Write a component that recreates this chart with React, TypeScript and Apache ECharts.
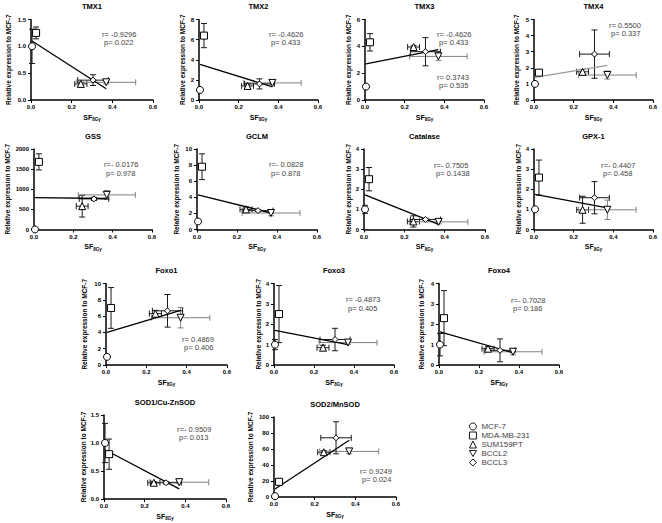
import React, { useEffect, useRef } from 'react';
import * as echarts from 'echarts';

// ---------------- DATA ----------------
const cellLines = ['MCF-7', 'MDA-MB-231', 'SUM159PT', 'BCCL2', 'BCCL3'];
const sf8Gy = [0.005, 0.025, 0.245, 0.37, 0.305];
const sf8GyErr = [0, 0, 0.03, 0.145, 0.075];

const genes = ['TMX1', 'TMX2', 'TMX3', 'TMX4', 'GSS', 'GCLM', 'Catalase', 'GPX-1', 'Foxo1', 'Foxo3', 'Foxo4', 'SOD1/Cu-ZnSOD', 'SOD2/MnSOD'];

const tmx1 = [1.0, 1.25, 0.3, 0.33, 0.37];
const tmx1Err = [0.32, 0.11, 0.03, 0.03, 0.1];
const tmx2 = [1.0, 6.4, 1.4, 1.7, 1.6];
const tmx2Err = [0, 1.2, 0.2, 0.15, 0.5];
const tmx3 = [1.0, 4.3, 3.95, 3.25, 3.6];
const tmx3Err = [0, 0.65, 0.1, 0.3, 1.05];
const tmx4 = [1.0, 1.7, 1.75, 1.55, 2.85];
const tmx4Err = [0, 0.15, 0.15, 0.25, 1.5];
const gss = [1, 1680, 580, 860, 760];
const gssErr = [0, 200, 270, 110, 40];
const gclm = [1.0, 7.8, 2.5, 2.05, 2.35];
const gclmErr = [0, 1.6, 0.3, 0.35, 0.1];
const catalase = [1.0, 2.5, 0.4, 0.38, 0.5];
const catalaseErr = [0.2, 0.58, 0.28, 0.1, 0.05];
const gpx1 = [1.0, 2.58, 0.98, 0.98, 1.58];
const gpx1Err = [0, 0.87, 0.67, 0.48, 0.8];
const foxo1 = [1.0, 7.0, 6.3, 5.8, 6.65];
const foxo1Err = [0, 2.5, 0.4, 1.25, 2.0];
const foxo3 = [1.0, 2.5, 0.85, 1.1, 1.25];
const foxo3Err = [0.25, 1.4, 0.12, 0.08, 0.55];
const foxo4 = [1.0, 2.3, 0.8, 0.65, 0.72];
const foxo4Err = [0.55, 1.35, 0.1, 0.15, 0.56];
const sod1 = [1.0, 0.8, 0.29, 0.3, 0.29];
const sod1Err = [0.35, 0.27, 0.02, 0.02, 0.02];
const sod2 = [1, 19, 56, 57, 74];
const sod2Err = [0, 3, 2, 3, 20];

const means = [tmx1, tmx2, tmx3, tmx4, gss, gclm, catalase, gpx1, foxo1, foxo3, foxo4, sod1, sod2];
const errors = [tmx1Err, tmx2Err, tmx3Err, tmx4Err, gssErr, gclmErr, catalaseErr, gpx1Err, foxo1Err, foxo3Err, foxo4Err, sod1Err, sod2Err];

const yMax = [1.5, 8, 6, 5, 2000, 10, 4, 4, 10, 4, 4, 1.5, 100];
const yStep = [0.5, 2, 2, 1, 500, 2, 1, 1, 2, 1, 1, 0.5, 20];
const xTickMax = 0.6;
const xTickStep = 0.2;

const fitX = [0.005, 0.37];
const fitStart = [1.1, 3.55, 2.7, 1.4, 790, 4.3, 1.72, 1.75, 4.0, 1.7, 1.62, 0.88, 10];
const fitEnd = [0.21, 1.3, 3.75, 2.15, 770, 2.05, 0.25, 1.08, 6.7, 1.0, 0.6, 0.18, 71];

const rValues = [['r= -0.9296'], ['r= -0.4626'], ['r= -0.4626', 'r= 0.3743'], ['r= 0.5500'], ['r=- 0.0176'], ['r=- 0.0828'], ['r=- 0.7505'], ['r=- 0.4407'], ['r= 0.4869'], ['r= -0.4873'], ['r=- 0.7028'], ['r=- 0.9509'], ['r= 0.9249']];
const pValues = [['p= 0.022'], ['p= 0.433'], ['p= 0.433', 'p= 0.535'], ['p= 0.337'], ['p= 0.978'], ['p= 0.878'], ['p= 0.1438'], ['p= 0.458'], ['p= 0.406'], ['p= 0.405'], ['p= 0.186'], ['p= 0.013'], ['p= 0.024']];

// ---------------- LAYOUT / STYLE ----------------
const layout = [
  { l: 31, r: 153, t: 19.5, b: 100, gap: 19, notes: [[102, 34]] },
  { l: 199, r: 318, t: 19.5, b: 100, gap: 13, notes: [[269, 34]] },
  { l: 365, r: 484, t: 19.5, b: 100, gap: 13, notes: [[437, 34], [437, 77]] },
  { l: 534, r: 653, t: 19.5, b: 100, gap: 14, notes: [[609, 25]] },
  { l: 34, r: 152, t: 149, b: 229.5, gap: 23, notes: [[104, 164.5]] },
  { l: 197, r: 317, t: 149, b: 229.5, gap: 17, notes: [[269, 164.5]] },
  { l: 364, r: 485, t: 149, b: 229.5, gap: 12, notes: [[434, 165]] },
  { l: 534, r: 653, t: 149, b: 229.5, gap: 12, notes: [[601, 165]] },
  { l: 106, r: 227, t: 283.5, b: 365, gap: 18, notes: [[182, 339]] },
  { l: 274, r: 394, t: 283.5, b: 365, gap: 12, notes: [[346, 299.5]] },
  { l: 439, r: 559, t: 283.5, b: 365, gap: 14, notes: [[511, 300]] },
  { l: 104, r: 226, t: 415, b: 499, gap: 17, notes: [[177, 429]] },
  { l: 274, r: 396, t: 417, b: 497, gap: 20, notes: [[360, 471]] },
];

const FONT = '"Liberation Sans", Arial, Helvetica, sans-serif';
const symbols = ['circle', 'rect', 'triangle', 'triangle', 'diamond'];
const symbolRot = [0, 0, 0, 180, 0];
const symbolSizes = [7, 7, 7, 7, 6];
const INVERTED_TRIANGLE = 'path://M0,0 L10,0 L5,8.66 Z';

function buildOption() {
  const grid: any[] = [];
  const xAxis: any[] = [];
  const yAxis: any[] = [];
  const series: any[] = [];
  const elements: any[] = [];

  genes.forEach((gene, i) => {
    const L = layout[i];
    grid.push({ left: L.l, top: L.t, width: L.r - L.l, height: L.b - L.t, containLabel: false });
    const decimals = yStep[i] < 1 ? 1 : 0;
    xAxis.push({
      gridIndex: i, type: 'value', min: 0, max: xTickMax, interval: xTickStep,
      axisLine: { show: true, onZero: false, lineStyle: { color: '#000', width: 1.5 } },
      axisTick: { show: true, length: 3, lineStyle: { color: '#000', width: 1 } },
      axisLabel: { fontSize: 6, fontWeight: 'bold', color: '#000', margin: 4, fontFamily: FONT, formatter: (v: number) => v.toFixed(1) },
      splitLine: { show: false },
      name: '{a|SF}{b|8Gy}', nameLocation: 'middle', nameGap: 12,
      nameTextStyle: {
        rich: {
          a: { fontSize: 7, fontWeight: 'bold', color: '#000', fontFamily: FONT, lineHeight: 10, verticalAlign: 'middle' },
          b: { fontSize: 4.5, fontWeight: 'bold', color: '#000', fontFamily: FONT, verticalAlign: 'bottom' },
        },
      },
    });
    yAxis.push({
      gridIndex: i, type: 'value', min: 0, max: yMax[i], interval: yStep[i],
      axisLine: { show: true, onZero: false, lineStyle: { color: '#000', width: 1.5 } },
      axisTick: { show: true, length: 3, lineStyle: { color: '#000', width: 1 } },
      axisLabel: { fontSize: 6, fontWeight: 'bold', color: '#000', margin: 5, fontFamily: FONT, formatter: (v: number) => v.toFixed(decimals) },
      splitLine: { show: false },
      name: 'Relative expression to MCF-7', nameLocation: 'middle', nameGap: L.gap,
      nameTextStyle: { fontSize: 6.5, fontWeight: 'bold', color: '#000', fontFamily: FONT },
    });

    const vals = means[i];
    const errs = errors[i];
    series.push({
      type: 'custom', xAxisIndex: i, yAxisIndex: i, clip: false, z: 2,
      encode: { x: 0, y: 1 },
      data: cellLines.map((_, k) => [sf8Gy[k], vals[k], sf8GyErr[k], errs[k], k === 3 ? 1 : 0]),
      renderItem: (params: any, api: any) => {
        const x = api.value(0), y = api.value(1), xe = api.value(2), ye = api.value(3), c = api.value(4);
        const color = c ? '#808080' : '#1a1a1a';
        const st = { stroke: color, lineWidth: 1 };
        const ch: any[] = [];
        const cap = 3;
        if (ye > 0) {
          const a = api.coord([x, y + ye]);
          const b = api.coord([x, y - ye]);
          ch.push({ type: 'line', shape: { x1: a[0], y1: a[1], x2: b[0], y2: b[1] }, style: st });
          ch.push({ type: 'line', shape: { x1: a[0] - cap, y1: a[1], x2: a[0] + cap, y2: a[1] }, style: st });
          ch.push({ type: 'line', shape: { x1: b[0] - cap, y1: b[1], x2: b[0] + cap, y2: b[1] }, style: st });
        }
        if (xe > 0) {
          const a = api.coord([x - xe, y]);
          const b = api.coord([x + xe, y]);
          ch.push({ type: 'line', shape: { x1: a[0], y1: a[1], x2: b[0], y2: b[1] }, style: st });
          ch.push({ type: 'line', shape: { x1: a[0], y1: a[1] - cap, x2: a[0], y2: a[1] + cap }, style: st });
          ch.push({ type: 'line', shape: { x1: b[0], y1: b[1] - cap, x2: b[0], y2: b[1] + cap }, style: st });
        }
        return { type: 'group', children: ch };
      },
    });
    series.push({
      type: 'line', xAxisIndex: i, yAxisIndex: i, clip: false, z: 3, symbol: 'none',
      data: [[fitX[0], fitStart[i]], [fitX[1], fitEnd[i]]],
      lineStyle: { color: i === 3 ? '#9a9a9a' : '#000', width: 1.3 },
      silent: true,
    });
    cellLines.forEach((cl, k) => {
      series.push({
        type: 'scatter', name: cl, xAxisIndex: i, yAxisIndex: i, clip: false, z: 4,
        symbol: symbols[k], symbolRotate: symbolRot[k], symbolSize: symbolSizes[k],
        itemStyle: { color: '#fff', borderColor: '#000', borderWidth: 1, opacity: 1 },
        data: [[sf8Gy[k], vals[k]]],
        silent: true,
      });
    });

    elements.push({
      type: 'text', x: (L.l + L.r) / 2, y: L.t - 13,
      style: { text: gene, fill: '#000', fontSize: 7.5, fontWeight: 'bold', fontFamily: FONT, align: 'center', verticalAlign: 'middle', textAlign: 'center', textVerticalAlign: 'middle' },
    });
    L.notes.forEach((pos, n) => {
      elements.push({
        type: 'text', x: pos[0], y: pos[1],
        style: { text: rValues[i][n], fill: '#444', fontSize: 7.5, fontFamily: FONT, align: 'left', verticalAlign: 'middle', textAlign: 'left', textVerticalAlign: 'middle' },
      });
      elements.push({
        type: 'text', x: pos[0] + 2, y: pos[1] + 8.5,
        style: { text: pValues[i][n], fill: '#444', fontSize: 7.5, fontFamily: FONT, align: 'left', verticalAlign: 'middle', textAlign: 'left', textVerticalAlign: 'middle' },
      });
    });
  });

  return {
    animation: false,
    backgroundColor: '#fff',
    grid, xAxis, yAxis, series,
    legend: {
      orient: 'vertical', left: 464, top: 417, itemWidth: 7, itemHeight: 7, itemGap: 0,
      selectedMode: false,
      data: cellLines.map((n, k) => (k === 3 ? { name: n, icon: INVERTED_TRIANGLE } : n)),
      itemStyle: { borderWidth: 0.9 },
      textStyle: { fontSize: 8, color: '#444', fontFamily: FONT, lineHeight: 9 },
    },
    graphic: { elements },
  };
}

export default function App() {
  const ref = useRef<HTMLDivElement>(null);
  useEffect(() => {
    const chart = echarts.init(ref.current!, undefined, { renderer: 'svg' });
    chart.setOption(buildOption() as any);
    return () => chart.dispose();
  }, []);
  return <div ref={ref} style={{ position: 'absolute', left: 0, top: 0, width: 662, height: 523, background: '#fff' }} />;
}
